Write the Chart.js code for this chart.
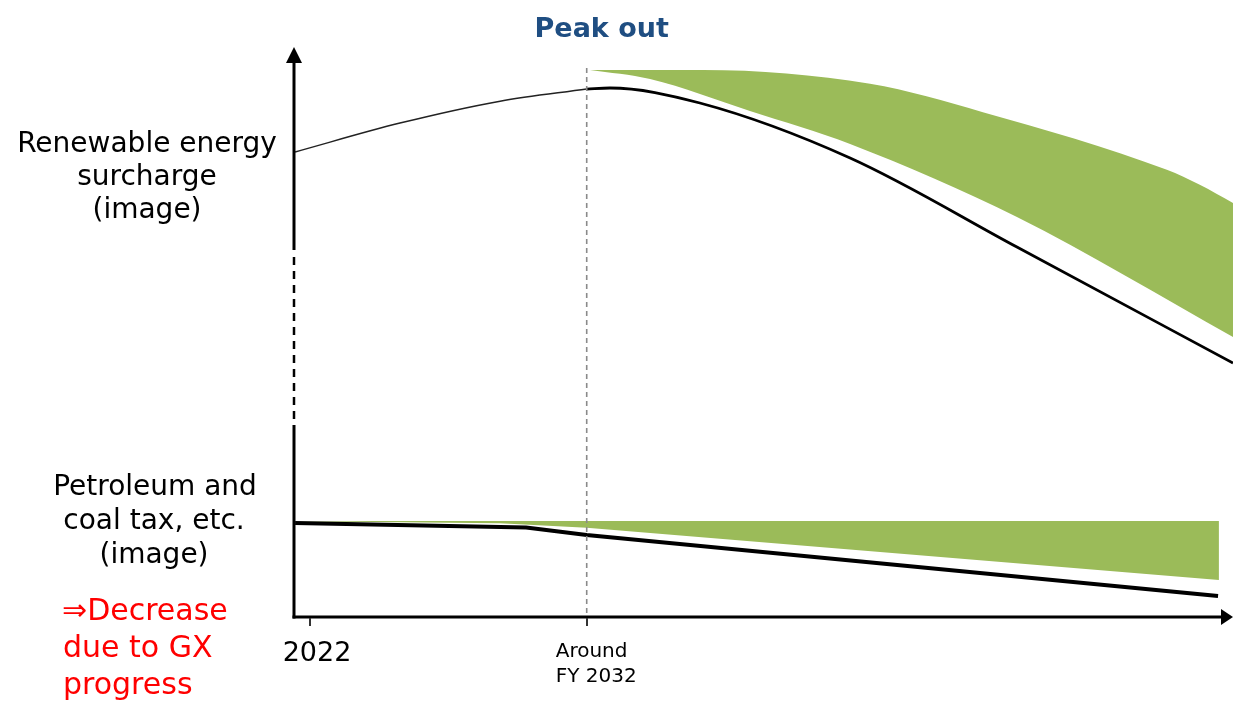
<!DOCTYPE html>
<html>
<head>
<meta charset="utf-8">
<script src="https://cdn.jsdelivr.net/npm/chart.js@4/dist/chart.umd.min.js"></script>
<style>
  html, body { margin: 0; padding: 0; background: #ffffff; }
  #wrap { width: 1233px; height: 701px; position: relative; }
</style>
</head>
<body>
<div id="wrap"><canvas id="c"></canvas></div>
<script>
// ---- Data (conceptual "image" chart; x = fiscal year, y = index 0..100) ----
const tickYears = [2022, 2032];
const tickLabels = ["2022", ["Around", "FY 2032"]];
const peakYear = 2032;

// Renewable energy surcharge: rising part up to the peak (thin line)
const surchargeRiseX = [2021.46, 2025.25, 2028.87, 2032.0];
const surchargeRiseY = [80.6, 85.6, 89.4, 91.5];
// Renewable energy surcharge: decline after peak (thick line)
const surchargeFallX = [2032.0, 2032.84, 2036.09, 2041.52, 2047.55, 2055.36];
const surchargeFallY = [91.5, 91.68, 89.08, 79.55, 64.12, 44.0];
// Green band above the surcharge curve
const surchargeBandTopX = [2032.12, 2036.2, 2042.24, 2046.32, 2052.97, 2054.16, 2055.36];
const surchargeBandTopY = [94.8, 94.8, 92.4, 87.5, 77.5, 74.9, 71.75];
const surchargeBandBotX = [2032.12, 2034.29, 2037.9, 2041.52, 2047.55, 2055.36];
const surchargeBandBotY = [94.8, 93.24, 87.69, 81.98, 69.32, 48.53];

// Petroleum and coal tax, etc.
const taxX = [2021.46, 2029.81, 2032.0, 2054.82];
const taxY = [16.29, 15.51, 14.21, 3.64];
const taxBandTopX = [2021.64, 2054.85];
const taxBandTopY = [16.64, 16.64];
const taxBandBotX = [2021.64, 2028.86, 2032.0, 2054.85];
const taxBandBotY = [16.6, 16.24, 15.48, 6.41];

// Peak-out marker line
const peakLineY = [95.15, 0];

const X_MIN = 2021.42, X_MAX = 2055.36, Y_MIN = 0, Y_MAX = 100;

const pts = (xs, ys) => xs.map((x, i) => ({ x: x, y: ys[i] }));

const GREEN = "#9BBB59";
const FONT = "'DejaVu Sans', Verdana, sans-serif";

const decoPlugin = {
  id: "deco",
  afterDatasetsDraw(chart) {
    const ctx = chart.ctx;
    const xs = chart.scales.x, ys = chart.scales.y;
    const x0 = xs.getPixelForValue(X_MIN);
    const xEnd = xs.getPixelForValue(X_MAX);
    const yBase = ys.getPixelForValue(Y_MIN);
    ctx.save();
    // ---- y axis (solid / dashed / solid) with arrow ----
    ctx.strokeStyle = "#000";
    ctx.fillStyle = "#000";
    ctx.lineCap = "butt";
    const yTip = ys.getPixelForValue(98.8);
    const ySolidEnd = ys.getPixelForValue(63.6);
    const yDashEnd = ys.getPixelForValue(33.28);
    ctx.lineWidth = 3;
    ctx.beginPath(); ctx.moveTo(x0, yTip + 14); ctx.lineTo(x0, ySolidEnd); ctx.stroke();
    ctx.lineWidth = 2.5;
    ctx.setLineDash([8, 6]);
    ctx.beginPath(); ctx.moveTo(x0, ySolidEnd + 7); ctx.lineTo(x0, yDashEnd); ctx.stroke();
    ctx.setLineDash([]);
    ctx.lineWidth = 3;
    ctx.beginPath(); ctx.moveTo(x0, yDashEnd); ctx.lineTo(x0, yBase + 1.5); ctx.stroke();
    ctx.beginPath();
    ctx.moveTo(x0, yTip); ctx.lineTo(x0 - 8, yTip + 16); ctx.lineTo(x0 + 8, yTip + 16); ctx.closePath(); ctx.fill();
    // ---- x axis with arrow ----
    ctx.lineWidth = 3;
    ctx.beginPath(); ctx.moveTo(x0 - 1.5, yBase); ctx.lineTo(xEnd - 8, yBase); ctx.stroke();
    ctx.beginPath();
    ctx.moveTo(xEnd, yBase); ctx.lineTo(xEnd - 12, yBase - 8); ctx.lineTo(xEnd - 12, yBase + 8); ctx.closePath(); ctx.fill();
    // ticks
    ctx.lineWidth = 2;
    ctx.strokeStyle = "#333";
    tickYears.forEach(t => {
      const px = Math.round(xs.getPixelForValue(t));
      ctx.beginPath(); ctx.moveTo(px, yBase + 1); ctx.lineTo(px, yBase + 9); ctx.stroke();
    });
    // tick labels
    ctx.fillStyle = "#000";
    ctx.textAlign = "center";
    ctx.font = "27px " + FONT;
    ctx.fillText(tickLabels[0], xs.getPixelForValue(tickYears[0]) + 7, 661);
    ctx.textAlign = "left";
    ctx.font = "20px " + FONT;
    ctx.fillText(tickLabels[1][0], xs.getPixelForValue(tickYears[1]) - 31, 657);
    ctx.fillText(tickLabels[1][1], xs.getPixelForValue(tickYears[1]) - 31, 682);

    // ---- Titles / side labels ----
    ctx.textAlign = "center";
    ctx.fillStyle = "#1F4E82";
    ctx.font = "bold 27px " + FONT;
    ctx.fillText("Peak out", xs.getPixelForValue(peakYear) + 15, 37);

    ctx.fillStyle = "#000";
    ctx.font = "28px " + FONT;
    ctx.fillText("Renewable energy", 147, 152);
    ctx.fillText("surcharge", 147, 185);
    ctx.fillText("(image)", 147, 218);

    ctx.fillText("Petroleum and", 155, 495);
    ctx.fillText("coal tax, etc.", 154, 529);
    ctx.fillText("(image)", 154, 563);

    ctx.fillStyle = "#FF0000";
    ctx.textAlign = "left";
    ctx.font = "30px " + FONT;
    ctx.fillText("\u21D2Decrease", 62, 620);
    ctx.fillText("due to GX", 63, 657);
    ctx.fillText("progress", 63, 694);
    ctx.restore();
  }
};

new Chart(document.getElementById("c"), {
  type: "line",
  data: {
    datasets: [
      { // peak-out dashed marker
        data: pts([peakYear, peakYear], peakLineY),
        borderColor: "#8a8a8a", borderWidth: 1.6, borderDash: [5, 4],
        pointRadius: 0, fill: false, order: 0
      },
      {
        data: pts(surchargeBandTopX, surchargeBandTopY),
        borderWidth: 0, borderColor: "rgba(0,0,0,0)", backgroundColor: GREEN,
        pointRadius: 0, fill: "+1", cubicInterpolationMode: "monotone", order: 5
      },
      {
        data: pts(surchargeBandBotX, surchargeBandBotY),
        borderWidth: 0, borderColor: "rgba(0,0,0,0)",
        pointRadius: 0, fill: false, cubicInterpolationMode: "monotone", order: 5
      },
      {
        data: pts(surchargeRiseX, surchargeRiseY),
        borderColor: "#222", borderWidth: 1.5,
        pointRadius: 0, fill: false, cubicInterpolationMode: "monotone", order: 2
      },
      {
        data: pts(surchargeFallX, surchargeFallY),
        borderColor: "#000", borderWidth: 2.8,
        pointRadius: 0, fill: false, cubicInterpolationMode: "monotone", order: 2
      },
      {
        data: pts(taxBandTopX, taxBandTopY),
        borderWidth: 0, borderColor: "rgba(0,0,0,0)", backgroundColor: GREEN,
        pointRadius: 0, fill: "+1", tension: 0, order: 5
      },
      {
        data: pts(taxBandBotX, taxBandBotY),
        borderWidth: 0, borderColor: "rgba(0,0,0,0)",
        pointRadius: 0, fill: false, tension: 0, order: 5
      },
      {
        data: pts(taxX, taxY),
        borderColor: "#000", borderWidth: 4,
        pointRadius: 0, fill: false, tension: 0, order: 2
      }
    ]
  },
  options: {
    responsive: true,
    maintainAspectRatio: false,
    animation: false,
    layout: { padding: { left: 294, right: 0, top: 40, bottom: 84 } },
    plugins: { legend: { display: false }, tooltip: { enabled: false } },
    scales: {
      x: { type: "linear", min: X_MIN, max: X_MAX, display: false },
      y: { type: "linear", min: Y_MIN, max: Y_MAX, display: false }
    }
  },
  plugins: [decoPlugin]
});
</script>
</body>
</html>
